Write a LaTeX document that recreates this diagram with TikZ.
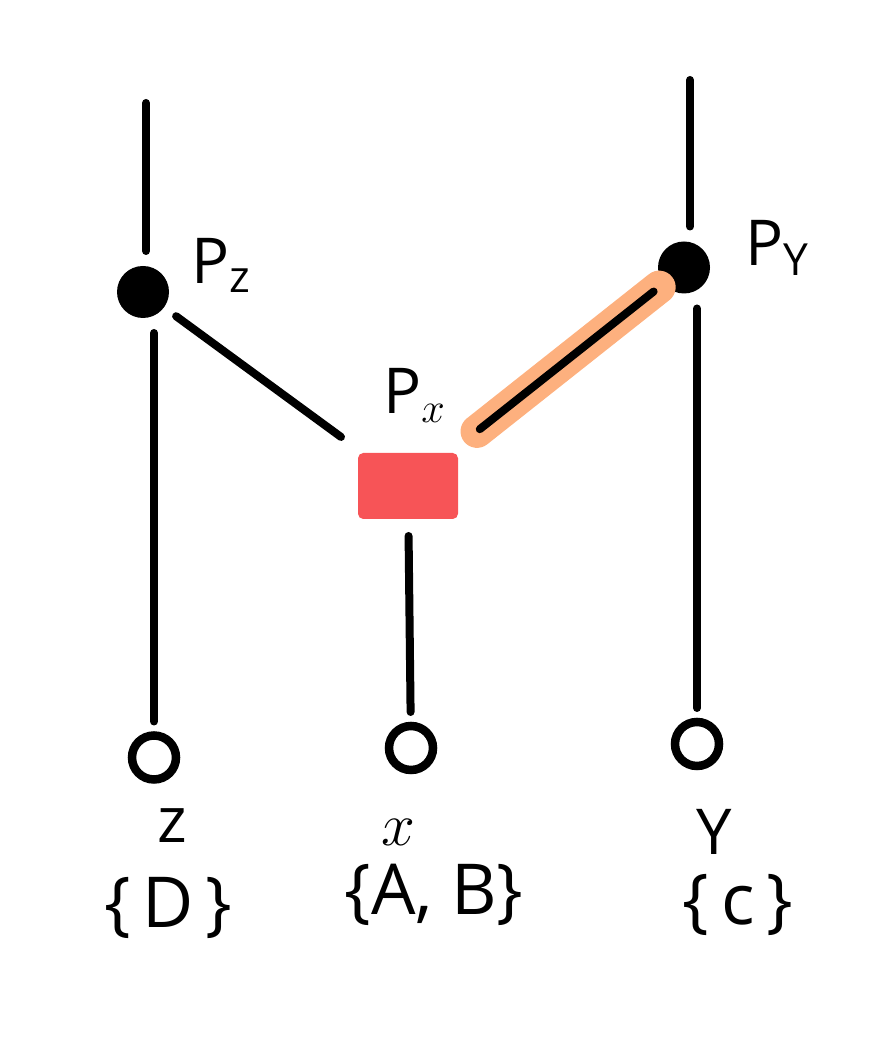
\documentclass[tikz,border=0pt]{standalone}
\usepackage{fontspec}
\setmainfont{Open Sans}
\usepackage{tikz}
\usetikzlibrary{calc}

\definecolor{boxred}{HTML}{F75457}
\definecolor{glow}{HTML}{FDB07E}

\tikzset{
  wire/.style={line width=0.08cm, line cap=round, black},
  fulldot/.style={circle, fill=black, inner sep=0pt, minimum size=0.52cm, outer sep=0.15cm},
  opendot/.style={circle, draw=black, line width=0.085cm, inner sep=0pt, minimum size=0.44cm, outer sep=0.14cm},
  flowbox/.style={rectangle, fill=boxred, rounded corners=1.5pt, minimum width=1.0cm, minimum height=0.66cm, inner sep=0pt, outer sep=0.17cm},
  lbl/.style={font=\fontsize{18}{20}\selectfont},
  setlbl/.style={font=\fontsize{20}{24}\selectfont}
}

\begin{document}
\begin{tikzpicture}
\useasboundingbox (0,0) rectangle (8.82,10.63);

%the nodes
\node [fulldot] (pz) at (1.43, 7.71) {};
\node [fulldot] (py) at (6.84, 7.955) {};
\node [flowbox] (px) at (4.08, 5.77) {};
\node [opendot] (z) at (1.54, 3.055) {};
\node [opendot] (x) at (4.11, 3.15) {};
\node [opendot] (y) at (6.97, 3.19) {};
\coordinate (ztop) at (1.46, 9.60);
\coordinate (ytop) at (6.90, 9.83);

%the highlighted edge
\draw [line width=0.33cm, line cap=round, glow] ($(px)!0.25!(py)$) -- ($(px)!0.91!(py)$);
\draw [wire] ($(px)!0.26!(py)$) -- ($(px)!0.89!(py)$);

%the edges
\draw [wire] (ztop) -- (ztop |- pz.north);
\draw [wire] (pz.south -| z) -- (z);
\draw [wire] (pz) -- (px);
\draw [wire] (px) -- (x);
\draw [wire] (ytop) -- (ytop |- py.north);
\draw [wire] (py.south -| y) -- (y);

%the labels
\node [lbl] (pzlbl) at (2.22, 7.98) {P\textsubscript{z}};
\node [lbl] (pxlbl) at (4.15, 6.68) {P\textsubscript{$x$}};
\node [lbl] (pylbl) at (7.78, 8.15) {P\textsubscript{Y}};

\node [lbl] (zlbl) at (1.72, 2.37) {z};
\node [setlbl] (zset) at (1.68, 1.55) {\{\,D\,\}};
\node [lbl] (xlbl) at (3.98, 2.31) {$x$};
\node [setlbl] (xset) at (4.34, 1.68) {\{A, B\}};
\node [lbl] (ylbl) at (7.14, 2.31) {Y};
\node [setlbl] (yset) at (7.38, 1.58) {\{\,c\,\}};
\end{tikzpicture}
\end{document}
